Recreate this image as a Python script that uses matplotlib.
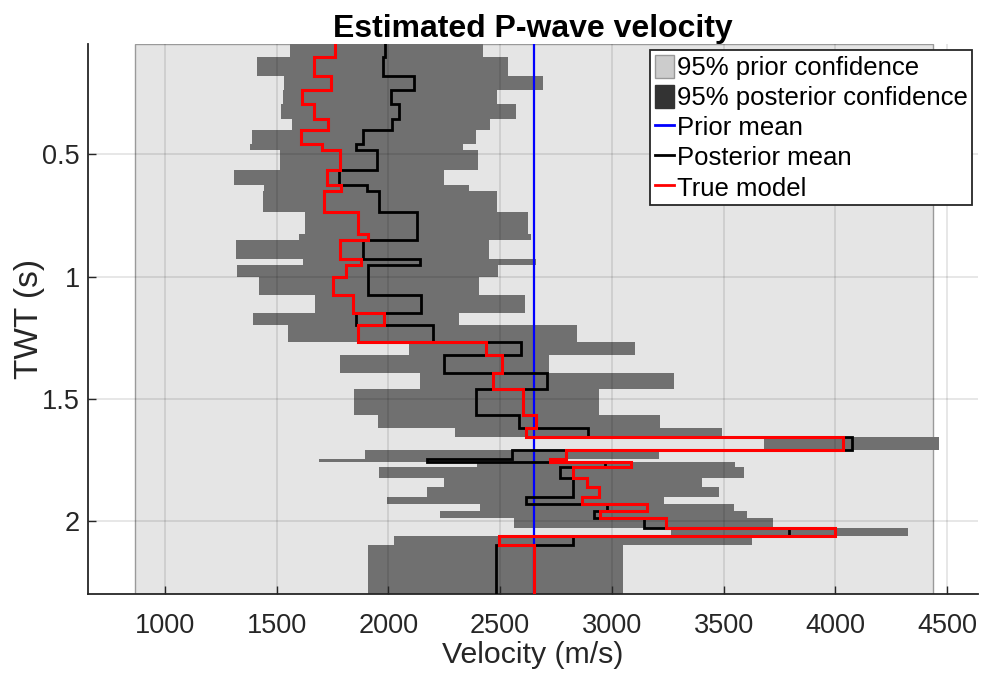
import numpy as np
import matplotlib
matplotlib.use("Agg")
import matplotlib.pyplot as plt
from matplotlib.patches import Patch
from matplotlib.lines import Line2D
from matplotlib.ticker import FormatStrFormatter

plt.rcParams['font.family'] = ['Liberation Sans', 'DejaVu Sans']

# layer boundaries in two-way time (s)
twt_edges = [0.0, 0.0993, 0.177, 0.2355, 0.2927, 0.354, 0.399, 0.456, 0.4837, 0.5654,
             0.624, 0.651, 0.736, 0.824, 0.8488, 0.9264, 0.951, 1.0016, 1.0765, 1.1488,
             1.199, 1.2674, 1.3218, 1.3966, 1.4607, 1.5671, 1.6215, 1.6583, 1.7101, 1.749,
             1.7604, 1.7784, 1.8259, 1.8602, 1.9011, 1.9309, 1.9595, 1.9894, 2.0302, 2.0617,
             2.1014, 2.3]

# 95% posterior bounds (m/s)
post_lo = [1558, 1414, 1535, 1530, 1518, 1570, 1391, 1379, 1513, 1309,
           1443, 1440, 1625, 1602, 1320, 1618, 1324, 1419, 1670, 1394,
           1551, 2094, 1782, 2143, 1844, 1955, 2298, 3679, 1895, 1690,
           2397, 1956, 2250, 2173, 1995, 2412, 2231, 2562, 3263, 2026, 1907]
post_hi = [2422, 2536, 2692, 2485, 2573, 2456, 2392, 2332, 2399, 2247,
           2362, 2485, 2623, 2640, 2451, 2660, 2489, 2406, 2610, 2317,
           2844, 3102, 2718, 3277, 2942, 3217, 3492, 4462, 3210, 2750,
           3552, 3590, 3403, 3481, 3231, 3545, 3604, 3720, 4327, 3625, 3052]
post_mean = [1987, 1978, 2116, 2012, 2049, 2015, 1888, 1856, 1950, 1777,
             1903, 1960, 2128, 2128, 1886, 2142, 1908, 1908, 2146, 1853,
             2198, 2594, 2250, 2710, 2394, 2584, 2893, 4074, 2551, 2171,
             2969, 2770, 2826, 2826, 2614, 2976, 2920, 3144, 3793, 2826, 2483]
true_model = [1759, 1667, 1744, 1615, 1667, 1732, 1610, 1702, 1784, 1726,
              1789, 1714, 1863, 1908, 1784, 1878, 1811, 1752, 1841, 1982,
              1863, 2438, 2510, 2468, 2603, 2660, 2616, 4032, 2795, 2722,
              3087, 2826, 2889, 2941, 2868, 3155, 2947, 3242, 3997, 2494, 2650]

prior_mean = 2650
prior_lo, prior_hi = 865, 4435

fig = plt.figure(figsize=(9.82, 6.73), dpi=100)
ax = fig.add_axes([0.0896, 0.1174, 0.9063, 0.8172])

ax.axvspan(prior_lo, prior_hi, facecolor='#e5e5e5', edgecolor='#9a9a9a', lw=1, zorder=0)
ax.stairs(post_hi, twt_edges, baseline=post_lo, fill=True, orientation='horizontal',
          color='#707070', lw=0, zorder=1)
ax.axvline(prior_mean, color='#0000ff', lw=1.6, zorder=3)
ax.stairs(post_mean, twt_edges, baseline=None, orientation='horizontal',
          color='k', lw=2, zorder=4)
ax.stairs(true_model, twt_edges, baseline=None, orientation='horizontal',
          color='#ff0000', lw=2.2, zorder=5)

ax.set_xlim(656, 4638)
ax.set_ylim(2.3, 0.048)
ax.set_xticks([1000, 1500, 2000, 2500, 3000, 3500, 4000, 4500])
ax.set_yticks([0.5, 1, 1.5, 2])
ax.yaxis.set_major_formatter(FormatStrFormatter('%g'))
ax.grid(True, color='k', alpha=0.1, lw=1.3)
ax.set_axisbelow(False)

for s in ['top', 'right']:
    ax.spines[s].set_visible(False)
for s in ['left', 'bottom']:
    ax.spines[s].set_color('#262626')
    ax.spines[s].set_linewidth(1.3)
ax.tick_params(direction='in', length=6, width=1, colors='#262626', labelsize=19.5)
ax.tick_params(axis='x', pad=14)
ax.tick_params(axis='y', pad=6)

ax.set_xlabel('Velocity (m/s)', fontsize=21.8, color='#262626', labelpad=1)
ax.set_ylabel('TWT (s)', fontsize=24, color='#262626', labelpad=-2)
ax.set_title('Estimated P-wave velocity', fontsize=23, fontweight='bold', pad=5)

handles = [Patch(facecolor='#cccccc', edgecolor='#999999'),
           Patch(facecolor='#333333', edgecolor='#333333'),
           Line2D([], [], color='#0000ff', lw=2),
           Line2D([], [], color='k', lw=2),
           Line2D([], [], color='#ff0000', lw=2)]
labels = ['95% prior confidence', '95% posterior confidence', 'Prior mean',
          'Posterior mean', 'True model']
leg = ax.legend(handles, labels, loc='upper right', fontsize=18.5, fancybox=False,
                edgecolor='#262626', framealpha=1, handlelength=0.75, handleheight=1.0,
                handletextpad=0.1, borderpad=0.18, labelspacing=0.19, borderaxespad=0.23)
leg.get_frame().set_linewidth(1.3)
leg.set_zorder(10)

fig.savefig('out.png', dpi=100)
